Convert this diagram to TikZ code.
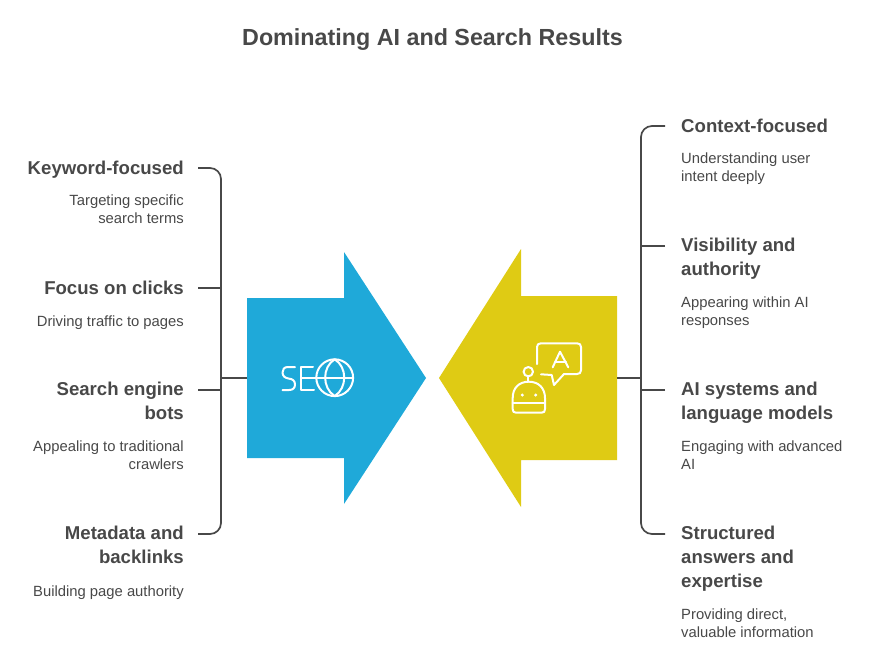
\documentclass[tikz,border=0pt]{standalone}
\usepackage{fontspec}
\setmainfont{Liberation Sans}
\definecolor{ink}{HTML}{484848}
\definecolor{seoblue}{HTML}{1FA9D9}
\definecolor{aiyellow}{HTML}{DFCB14}
\tikzset{
  x=1pt,y=-1pt,
  titletext/.style={font=\fontsize{23.3}{28}\selectfont\bfseries,text=ink,inner sep=0pt},
  headbase/.style={font=\fontsize{18.6}{24}\selectfont\bfseries,text=ink,inner sep=0pt,execute at begin node={\rule{0pt}{14pt}}},
  descbase/.style={font=\fontsize{14.8}{18}\selectfont,text=ink,inner sep=0pt,execute at begin node={\rule{0pt}{11pt}}},
  headl/.style={headbase,anchor=north east,align=right},
  descl/.style={descbase,anchor=north east,align=right},
  headr/.style={headbase,anchor=north west,align=left},
  descr/.style={descbase,anchor=north west,align=left},
  bracket/.style={draw=ink,line width=1.7pt,rounded corners=11pt},
  stub/.style={draw=ink,line width=1.7pt},
  icon/.style={draw=white,line width=2pt,line cap=round,line join=round},
}
\begin{document}
\begin{tikzpicture}
\useasboundingbox (0,0) rectangle (873,651);
\node[titletext] (title) at (432.5,40) {Dominating AI and Search Results};

% arrows
\fill[seoblue] (247,298) -- (344,298) -- (344,252) -- (426,378) -- (344,504) -- (344,458) -- (247,458) -- cycle;
\fill[aiyellow] (617,296) -- (521,296) -- (521,249) -- (439,378) -- (521,507) -- (521,460) -- (617,460) -- cycle;
\coordinate (blueedge) at (247,378);
\coordinate (yellowedge) at (617,378);

% left side
\coordinate (lt) at (198,168);
\coordinate (lb) at (198,534);
\coordinate (lm) at (221,378);
\coordinate (l2) at (198,288);
\coordinate (l3) at (198,390);
\draw[bracket] (lt) -- (221,168) -- (221,534) -- (lb);
\draw[stub] (l2) -- (221,288);
\draw[stub] (l3) -- (221,390);
\draw[stub] (lm) -- (blueedge);

\node[headl] (k1) at (184,160) {Keyword-focused};
\node[descl] (k1d) at (184,195) {Targeting specific\\search terms};
\node[headl] (k2) at (184,280) {Focus on clicks};
\node[descl] (k2d) at (184,315) {Driving traffic to pages};
\node[headl] (k3) at (184,382) {Search engine\\bots};
\node[descl] (k3d) at (184,441) {Appealing to traditional\\crawlers};
\node[headl] (k4) at (184,526) {Metadata and\\backlinks};
\node[descl] (k4d) at (184,585) {Building page authority};

% right side
\coordinate (rt) at (665,126);
\coordinate (rb) at (665,534);
\coordinate (rm) at (641,378);
\coordinate (r2) at (665,246);
\coordinate (r3) at (665,390);
\draw[bracket] (rt) -- (641,126) -- (641,534) -- (rb);
\draw[stub] (r2) -- (641,246);
\draw[stub] (r3) -- (641,390);
\draw[stub] (yellowedge) -- (rm);

\node[headr] (a1) at (681,118) {Context-focused};
\node[descr] (a1d) at (681,153) {Understanding user\\intent deeply};
\node[headr] (a2) at (681,238) {Visibility and\\authority};
\node[descr] (a2d) at (681,297) {Appearing within AI\\responses};
\node[headr] (a3) at (681,382) {AI systems and\\language models};
\node[descr] (a3d) at (681,441) {Engaging with advanced\\AI};
\node[headr] (a4) at (681,526) {Structured\\answers and\\expertise};
\node[descr] (a4d) at (681,609) {Providing direct,\\valuable information};

% SEO icon
\draw[icon] (295,367) -- (288,367) .. controls (284,367) and (282.5,369.5) .. (282.5,372.5)
  .. controls (282.5,376) and (285,378) .. (288.5,378.5)
  .. controls (293,379) and (295,381) .. (295,384.5)
  .. controls (295,388) and (293,390) .. (289,390) -- (282.5,390);
\draw[icon] (313,367) -- (301,367) -- (301,390) -- (314,390);
\draw[icon] (301,378) -- (316,378);
\draw[icon] (334.7,377.7) circle (18.4);
\draw[icon] (316.3,377.7) -- (353.1,377.7);
\draw[icon] (334.7,359.3) .. controls (322,367) and (322,388) .. (334.7,396.1);
\draw[icon] (334.7,359.3) .. controls (347.4,367) and (347.4,388) .. (334.7,396.1);

% robot icon
\draw[icon] (537,364) -- (537,347) .. controls (537,344.5) and (538.5,343.3) .. (541,343.3)
  -- (577,343.3) .. controls (579.5,343.3) and (581,344.5) .. (581,347)
  -- (581,370.3) .. controls (581,372.8) and (579.5,374) .. (577,374)
  -- (564,374) -- (554,385) -- (551.7,375) -- (541,374.3);
\draw[icon] (552.7,367.3) -- (560,351.7) -- (568.3,367.3);
\draw[icon] (555,362.3) -- (566,362.3);
\draw[icon] (528.3,371.7) circle (4.7);
\draw[icon] (528.3,376.4) -- (528.3,381.7);
\draw[icon] (512.7,398) .. controls (512.7,388) and (519,381.7) .. (528.8,381.7)
  .. controls (538.6,381.7) and (545,388) .. (545,398)
  -- (545,409.2) .. controls (545,411.5) and (544,412.7) .. (541.5,412.7)
  -- (516.2,412.7) .. controls (513.7,412.7) and (512.7,411.5) .. (512.7,409.2) -- cycle;
\draw[icon] (512.7,402.7) -- (545,402.7);
\fill[white] (522.3,395) circle (1.7);
\fill[white] (535.7,395) circle (1.7);
\end{tikzpicture}
\end{document}
